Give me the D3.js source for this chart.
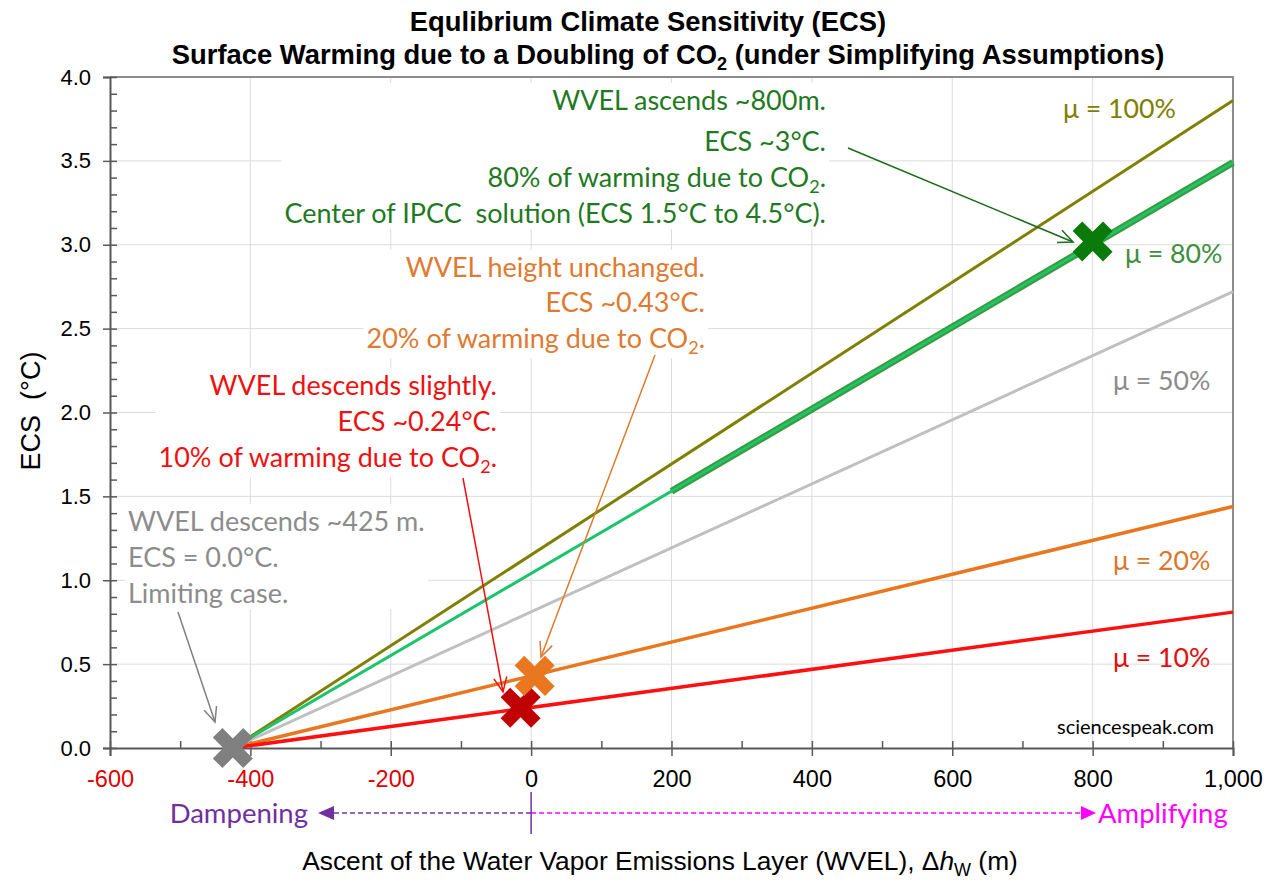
<!DOCTYPE html>
<html><head><meta charset="utf-8">
<script src="https://cdn.jsdelivr.net/npm/d3@7"></script>
<style>
html,body{margin:0;padding:0;background:#fff;}
svg{display:block;}
.arial{font-family:"Liberation Sans",Arial,sans-serif;}
.cal{font-family:Lato,"Open Sans",sans-serif;}
</style></head>
<body>
<svg id="chart" width="1280" height="886"></svg>
<script>
// ---------------- data ----------------
const xDomain = [-600, 1000];
const yDomain = [0, 4];
const xTickValues = [-600, -400, -200, 0, 200, 400, 600, 800, 1000];
const xTickLabels = ["-600", "-400", "-200", "0", "200", "400", "600", "800", "1,000"];
const yTickValues = [0, 0.5, 1, 1.5, 2, 2.5, 3, 3.5, 4];
const yTickLabels = ["0.0", "0.5", "1.0", "1.5", "2.0", "2.5", "3.0", "3.5", "4.0"];
const seriesNames = ["μ = 100%", "μ = 80%", "μ = 50%", "μ = 20%", "μ = 10%"];
const lineX = [-425, 1000];
const ecs100 = [0, 3.86];
const ecs80 = [0, 3.49];
const ecs50 = [0, 2.72];
const ecs20 = [0, 1.44];
const ecs10 = [0, 0.81];
const ipccX = [200, 1000];
const ipccY = [1.53, 3.49];
const markerX = [-425, -15, 5, 800];
const markerY = [0, 0.24, 0.43, 3.02];

// ---------------- setup ----------------
const svg = d3.select("#chart");
const L = 110, R = 1233, T = 77, B = 748;
const x = d3.scaleLinear().domain(xDomain).range([L, R]);
const y = d3.scaleLinear().domain(yDomain).range([B, T]);

// title
const title = svg.append("g").attr("class", "arial").attr("font-weight", "bold").attr("font-size", 27.4).attr("text-anchor", "middle").attr("fill", "#000");
title.append("text").attr("x", 648).attr("y", 31).text("Equlibrium Climate Sensitivity (ECS)");
const t2 = title.append("text").attr("x", 668).attr("y", 64);
t2.append("tspan").text("Surface Warming due to a Doubling of CO");
t2.append("tspan").attr("font-size", 18).attr("dy", 6).text("2");
t2.append("tspan").attr("dy", -6).text(" (under Simplifying Assumptions)");

// grid
const grid = svg.append("g").attr("stroke", "#dcdcdc").attr("stroke-width", 1);
grid.selectAll("line.h").data(yTickValues.filter(v => v > 0 && v < 4)).join("line")
  .attr("x1", L).attr("x2", R).attr("y1", d => y(d)).attr("y2", d => y(d));
grid.selectAll("line.v").data(xTickValues.filter(v => v > -600 && v < 1000)).join("line")
  .attr("x1", d => x(d)).attr("x2", d => x(d)).attr("y1", T).attr("y2", B);

// frame top & right
svg.append("path").attr("d", `M${L},${T}H${R}V${B}`).attr("fill", "none").attr("stroke", "#8c8c8c").attr("stroke-width", 2);

// axes
const xAxis = d3.axisBottom(x).tickValues(xTickValues).tickSize(8).tickFormat((d, i) => xTickLabels[i]);
const gx = svg.append("g").attr("transform", `translate(0,${B})`).call(xAxis);
gx.select(".domain").attr("stroke", "#595959").attr("stroke-width", 2);
gx.selectAll(".tick line").attr("stroke", "#595959").attr("stroke-width", 1.5);
gx.selectAll(".tick text").attr("class", "arial").attr("font-size", 23.5).attr("dy", 0).attr("y", 39)
  .attr("fill", d => d < 0 ? "#e00000" : "#000");
// minor x ticks (inside)
const gxm = svg.append("g").attr("transform", `translate(0,${B})`).call(d3.axisTop(x).tickValues(d3.range(-600, 1001, 100)).tickSize(7).tickFormat(""));
gxm.select(".domain").remove();
gxm.selectAll(".tick line").attr("stroke", "#595959").attr("stroke-width", 1.5);

const yAxis = d3.axisLeft(y).tickValues(yTickValues).tickSize(7).tickFormat((d, i) => yTickLabels[i]);
const gy = svg.append("g").attr("transform", `translate(${L},0)`).call(yAxis);
gy.select(".domain").attr("stroke", "#595959").attr("stroke-width", 2);
gy.selectAll(".tick line").attr("stroke", "#595959").attr("stroke-width", 1.5);
gy.selectAll(".tick text").attr("class", "arial").attr("font-size", 22).attr("x", -19).attr("fill", "#000");
const gym = svg.append("g").attr("transform", `translate(${L},0)`).call(d3.axisRight(y).tickValues(d3.range(0, 40.5, 1).map(v => v / 10)).tickSize(7).tickFormat(""));
gym.select(".domain").remove();
gym.selectAll(".tick line").attr("stroke", "#595959").attr("stroke-width", 1.5);

// axis titles
svg.append("text").attr("class", "arial").attr("font-size", 27).attr("text-anchor", "middle")
  .attr("transform", "translate(40,411) rotate(-90)").attr("xml:space", "preserve").text("ECS  (°C)");
const xt = svg.append("text").attr("class", "arial").attr("font-size", 26.3).attr("text-anchor", "middle").attr("x", 660).attr("y", 870);
xt.append("tspan").text("Ascent of the Water Vapor Emissions Layer (WVEL), Δ");
xt.append("tspan").attr("font-style", "italic").text("h");
xt.append("tspan").attr("font-size", 18).attr("dy", 6).text("W");
xt.append("tspan").attr("dy", -6).text(" (m)");

// dampening / amplifying
const dY = 813, x0 = x(0);
svg.append("line").attr("x1", 334).attr("x2", x0).attr("y1", dY).attr("y2", dY).attr("stroke", "#7030a0").attr("stroke-width", 1.5).attr("stroke-dasharray", "5,3");
svg.append("path").attr("d", `M318,${dY}L334,${dY - 7}L334,${dY + 7}Z`).attr("fill", "#7030a0");
svg.append("line").attr("x1", x0).attr("x2", 1082).attr("y1", dY).attr("y2", dY).attr("stroke", "#ff00ff").attr("stroke-width", 1.5).attr("stroke-dasharray", "5,3");
svg.append("path").attr("d", `M1096,${dY}L1081,${dY - 7}L1081,${dY + 7}Z`).attr("fill", "#ff00ff");
svg.append("line").attr("x1", x0).attr("x2", x0).attr("y1", 792).attr("y2", 834).attr("stroke", "#7030a0").attr("stroke-width", 1.5);
svg.append("text").attr("class", "cal").attr("font-size", 27.5).attr("text-anchor", "end").attr("x", 308).attr("y", 823).attr("fill", "#7030a0").text("Dampening");
svg.append("text").attr("class", "cal").attr("font-size", 27.5).attr("x", 1098).attr("y", 823).attr("fill", "#ff00ff").text("Amplifying");

// annotation blocks with white backgrounds
function block(lines, xPos, baselines, color, anchor) {
  const g = svg.append("g");
  const bg = g.append("rect").attr("fill", "#fff");
  const tg = g.append("g").attr("class", "cal").attr("font-size", 27).attr("fill", color).attr("text-anchor", anchor);
  lines.forEach((ln, i) => {
    const t = tg.append("text").attr("x", xPos).attr("y", baselines[i]).attr("xml:space", "preserve");
    if (Array.isArray(ln)) {
      t.append("tspan").text(ln[0]);
      t.append("tspan").attr("font-size", 18).attr("dy", 6).text(ln[1]);
      t.append("tspan").attr("dy", -6).text(ln[2]);
    } else t.text(ln);
  });
  const bb = tg.node().getBBox();
  bg.attr("x", bb.x - 3).attr("y", bb.y).attr("width", bb.width + 6).attr("height", bb.height);
}
block(["WVEL ascends ~800m.", "ECS ~3°C.", ["80% of warming due to CO", "2", "."], "Center of IPCC  solution (ECS 1.5°C to 4.5°C)."],
  826, [110, 151, 187, 223], "#1f7a1f", "end");
block(["WVEL height unchanged.", "ECS ~0.43°C.", ["20% of warming due to CO", "2", "."]],
  705, [277, 312, 348], "#e07a30", "end");
block(["WVEL descends slightly.", "ECS ~0.24°C.", ["10% of warming due to CO", "2", "."]],
  497, [395, 431, 467], "#ee1111", "end");
block(["WVEL descends ~425 m.", "ECS = 0.0°C.", "Limiting case."],
  128, [531, 567, 603], "#8c8c8c", "start");

// series lines
const line = d3.line().x(d => x(d[0])).y(d => y(d[1]));
const pts = (xs, ys) => xs.map((v, i) => [v, ys[i]]);
const seriesY = [ecs100, ecs80, ecs50, ecs20, ecs10];
const lineColors = ["#808000", "#1ec46c", "#c0c0c0", "#e8771f", "#ff1010"];
const lineWidths = [3, 3, 3, 3.5, 3.5];
svg.append("path").attr("d", line(pts(ipccX, ipccY))).attr("fill", "none").attr("stroke", "#3c9a3c").attr("stroke-width", 7);
[2, 0, 1, 3, 4].forEach(i => {
  svg.append("path").attr("d", line(pts(lineX, seriesY[i]))).attr("fill", "none")
    .attr("stroke", lineColors[i]).attr("stroke-width", lineWidths[i]);
});

// series labels
const labelX = [1063, 1125, 1113, 1113, 1113];
const labelY = [118, 263, 390, 570, 667];
const labelColors = ["#808000", "#3f8f3f", "#8c8c8c", "#d9782d", "#e01010"];
seriesNames.forEach((n, i) => {
  svg.append("text").attr("class", "cal").attr("font-size", 26.7).attr("x", labelX[i]).attr("y", labelY[i]).attr("fill", labelColors[i]).text(n);
});
svg.append("text").attr("class", "cal").attr("font-size", 20).attr("x", 1057).attr("y", 734).attr("fill", "#000").text("sciencespeak.com");

// arrows
function arrow(x1, y1, x2, y2, color) {
  const g = svg.append("g").attr("stroke", color).attr("stroke-width", 1.5).attr("fill", "none");
  g.append("line").attr("x1", x1).attr("y1", y1).attr("x2", x2).attr("y2", y2);
  const a = Math.atan2(y2 - y1, x2 - x1), s = 16, w = 0.42;
  const p1 = [x2 - s * Math.cos(a - w), y2 - s * Math.sin(a - w)];
  const p2 = [x2 - s * Math.cos(a + w), y2 - s * Math.sin(a + w)];
  g.append("path").attr("d", `M${p1[0]},${p1[1]}L${x2},${y2}L${p2[0]},${p2[1]}`);
}
arrow(848, 148, 1073, 242, "#1a6b1a");
arrow(655, 355, 541, 657, "#e07a30");
arrow(463, 478, 503, 692, "#ee1111");
arrow(178, 612, 215, 722, "#808080");

// markers
const markerColors = ["#808080", "#c00000", "#e8771f", "#0a7a0a"];
const a = 21.5, w = 6.8;
const plus = `M${-w},${-a}H${w}V${-w}H${a}V${w}H${w}V${a}H${-w}V${w}H${-a}V${-w}H${-w}Z`;
markerX.forEach((mx, i) => {
  svg.append("path").attr("d", plus).attr("fill", markerColors[i])
    .attr("transform", `translate(${x(mx)},${y(markerY[i])}) rotate(45)`);
});
</script>
</body></html>
